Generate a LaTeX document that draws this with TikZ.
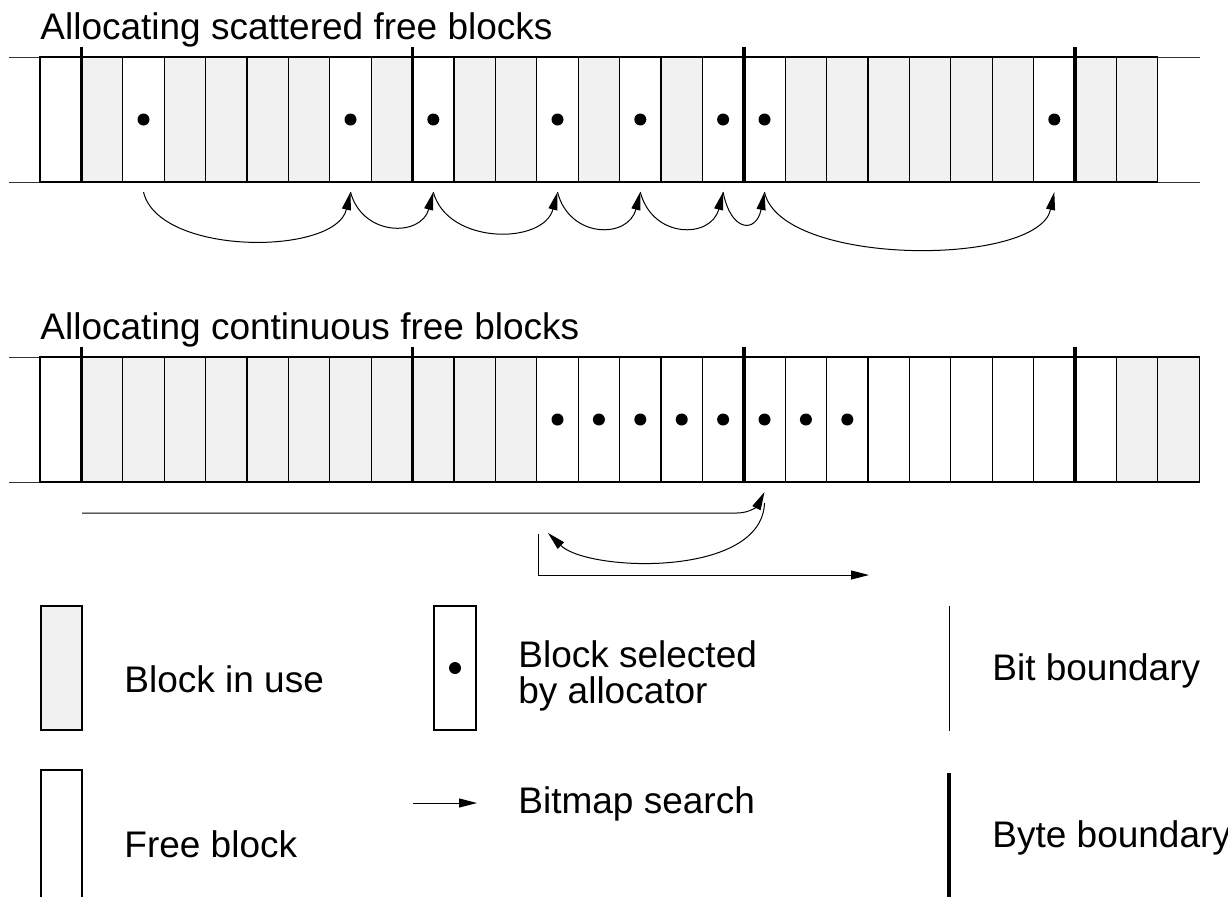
\documentclass[tikz,border=0pt]{standalone}
\usepackage{fontspec}
\setmainfont{Liberation Sans}
\usetikzlibrary{arrows.meta}
\definecolor{used}{HTML}{F1F1F1}
\tikzset{
  cell/.style={draw, line width=0.6pt, rectangle, minimum width=20.7pt, minimum height=62.5pt, inner sep=0pt, outer sep=0pt},
  usedcell/.style={cell, fill=used},
  freecell/.style={cell, fill=white},
  seldot/.style={circle, fill=black, inner sep=0pt, minimum size=6pt},
  hline/.style={line width=0.5pt, black!80},
  bytebound/.style={line width=1.8pt},
  bitbound/.style={line width=0.5pt},
  arr/.style={line width=0.5pt, -{Triangle[length=9pt,width=4.5pt]}},
  lbl/.style={anchor=base west, inner sep=0pt, font=\fontsize{18.5}{22}\selectfont},
}
\begin{document}
\begin{tikzpicture}[x=0.5pt,y=-0.5pt]
\useasboundingbox (0,0) rectangle (1228,896);

% ---------- titles
\node[lbl] (t1) at (40,39) {Allocating scattered free blocks};
\node[lbl] (t2) at (40,339) {Allocating continuous free blocks};

% ---------- strip 1
\draw[hline] (9,57) -- (1200,57);
\draw[hline] (9,182) -- (1200,182);
\foreach \i in {1,3,4,5,6,8,10,11,13,15,18,19,20,21,22,23,25,26}
  \node[usedcell] (a\i) at ({40+41.4*(\i+0.5)},119.5) {};
\foreach \i in {0,2,7,9,12,14,16,17,24}
  \node[freecell] (a\i) at ({40+41.4*(\i+0.5)},119.5) {};
\foreach \i in {2,7,9,12,14,16,17,24} {
  \node[seldot] (da\i) at (a\i.center) {};
  \coordinate (pa\i) at ([yshift=-5pt]a\i.south);
}
\foreach \k in {1,9,17,25}
  \draw[bytebound] ({40+41.4*\k},47) -- ({40+41.4*\k},182);

% scattered search arrows
\draw[arr] (pa2)  .. controls +(15,64) and +(-15,64) .. (pa7);
\draw[arr] (pa7)  .. controls +(12,45) and +(-12,45) .. (pa9);
\draw[arr] (pa9)  .. controls +(14,53) and +(-14,53) .. (pa12);
\draw[arr] (pa12) .. controls +(12,47) and +(-12,47) .. (pa14);
\draw[arr] (pa14) .. controls +(12,47) and +(-12,47) .. (pa16);
\draw[arr] (pa16) .. controls +(8,41) and +(-8,41) .. (pa17);
\draw[arr] (pa17) .. controls +(16,75) and +(-16,75) .. (pa24);

% ---------- strip 2
\draw[hline] (9,357) -- (1200,357);
\draw[hline] (9,482) -- (1200,482);
\foreach \i in {1,...,11,26,27}
  \node[usedcell] (b\i) at ({40+41.4*(\i+0.5)},419.5) {};
\foreach \i in {0,12,13,...,25}
  \node[freecell] (b\i) at ({40+41.4*(\i+0.5)},419.5) {};
\foreach \i in {12,...,19}
  \node[seldot] (db\i) at (b\i.center) {};
\foreach \k in {1,9,17,25}
  \draw[bytebound] ({40+41.4*\k},347) -- ({40+41.4*\k},482);

% continuous search arrows
\coordinate (q0) at (82,513);
\coordinate (q1) at ([yshift=-5pt]b17.south);
\coordinate (q2) at ([yshift=-10.5pt]b17.south);
\coordinate (q3) at (548,533);
\coordinate (q4) at (538,534);
\coordinate (q5) at (869,575);
\draw[arr] (q0) -- (737,513) .. controls (751,513) and (758,505) .. (q1);
\draw[arr] (q2) .. controls (762,578) and (588,572) .. (q3);
\draw[arr] (q4) |- (q5);

% ---------- legend
\node[usedcell, minimum width=20.5pt, minimum height=62pt] (lu) at (61.5,668) {};
\node[lbl] (lut) at (124,692) {Block in use};

\coordinate (lf1) at (41,900);
\coordinate (lf2) at (41,770);
\coordinate (lf3) at (82,770);
\coordinate (lf4) at (82,900);
\draw[line width=0.6pt] (lf1) -- (lf2) -- (lf3) -- (lf4);
\node[lbl] (lft) at (124,857) {Free block};

\node[freecell, minimum width=21pt, minimum height=62pt] (ls) at (455,668) {};
\node[seldot] (lsd) at (ls.center) {};
\node[lbl] (lst1) at (518,667) {Block selected};
\node[lbl] (lst2) at (518,703) {by allocator};

\coordinate (la1) at (413,803);
\coordinate (la2) at (477,803);
\draw[arr] (la1) -- (la2);
\node[lbl] (lat) at (518,813) {Bitmap search};

\coordinate (lb1) at (949,606);
\coordinate (lb2) at (949,731);
\draw[bitbound] (lb1) -- (lb2);
\node[lbl] (lbt) at (992,680) {Bit boundary};

\coordinate (ly1) at (949,773);
\coordinate (ly2) at (949,900);
\draw[bytebound] (ly1) -- (ly2);
\node[lbl] (lyt) at (992,847) {Byte boundary};
\end{tikzpicture}
\end{document}
